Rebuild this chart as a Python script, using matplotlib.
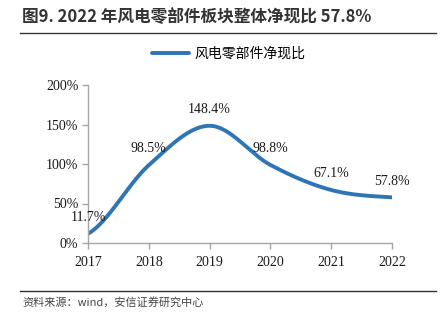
import numpy as np
import matplotlib
matplotlib.use("Agg")
import matplotlib.pyplot as plt
from matplotlib.lines import Line2D

years = [2017, 2018, 2019, 2020, 2021, 2022]
ratio = [11.7, 98.5, 148.4, 98.8, 67.1, 57.8]
series_name = "风电零部件净现比"
title = "图9. 2022 年风电零部件板块整体净现比 57.8%"
source = "资料来源：wind，安信证券研究中心"
yticks = [0, 50, 100, 150, 200]

cjk = ["Noto Sans CJK SC", "DejaVu Sans"]
serif = ["Liberation Serif", "DejaVu Serif"]
blue = "#2E75B6"
grey = "#A6A6A6"


def smooth(x, y, n=40, tension=0.5):
    # Catmull-Rom style curve through the data points
    x = np.asarray(x, float)
    y = np.asarray(y, float)
    px = np.concatenate([[2 * x[0] - x[1]], x, [2 * x[-1] - x[-2]]])
    py = np.concatenate([[y[0]], y, [y[-1]]])
    xs, ys = [], []
    for i in range(1, len(px) - 2):
        p0, p1, p2, p3 = (np.array([px[j], py[j]]) for j in range(i - 1, i + 3))
        c1 = p1 + (p2 - p0) * tension / 3
        c2 = p2 - (p3 - p1) * tension / 3
        t = np.linspace(0, 1, n)[:, None]
        b = ((1 - t) ** 3) * p1 + 3 * ((1 - t) ** 2) * t * c1 + 3 * (1 - t) * t ** 2 * c2 + t ** 3 * p2
        xs.append(b[:, 0])
        ys.append(b[:, 1])
    return np.concatenate(xs), np.concatenate(ys)


fig = plt.figure(figsize=(4.4, 3.21), dpi=100)
ax = fig.add_axes([88 / 440, 1 - 243 / 321, 304 / 440, 158 / 321])

sx, sy = smooth(years, ratio)
ax.plot(sx, sy, color=blue, lw=2.8, solid_capstyle="round")

for x, v in zip(years, ratio):
    ax.annotate(f"{v:.1f}%", (x, v), xytext=(0, 7), textcoords="offset points",
                ha="center", va="bottom", fontsize=10, family=serif, color="#1a1a1a")

ax.set_xlim(2017, 2022)
ax.set_ylim(0, 200)
ax.set_xticks(years)
ax.set_xticklabels([str(y) for y in years], family=serif, fontsize=10)
ax.set_yticks(yticks)
ax.set_yticklabels([f"{t}%" for t in yticks], family=serif, fontsize=10)
for s in ["top", "right"]:
    ax.spines[s].set_visible(False)
for s in ["left", "bottom"]:
    ax.spines[s].set_color(grey)
    ax.spines[s].set_linewidth(1.0)
ax.tick_params(axis="both", direction="out", length=4, width=1.0, colors="#1a1a1a")
ax.tick_params(axis="both", color=grey)
ax.tick_params(axis="x", pad=5)
ax.tick_params(axis="y", pad=3)

handle = Line2D([], [], color=blue, lw=2.8, solid_capstyle="round")
fig.legend([handle], [series_name], loc="center", bbox_to_anchor=(0.52, 1 - 54 / 321),
           frameon=False, prop={"family": cjk, "size": 10}, handlelength=2.6, handletextpad=0.4)

fig.text(22 / 440, 1 - 17 / 321, title, fontsize=12, fontweight="bold",
         family=cjk, color="#333333", va="center", ha="left")
fig.add_artist(Line2D([20 / 440, 436 / 440], [1 - 33 / 321] * 2, color="#333333", lw=1.0))
fig.add_artist(Line2D([20 / 440, 436 / 440], [1 - 291 / 321] * 2, color="#333333", lw=1.0))
fig.text(22 / 440, 1 - 302 / 321, source, fontsize=8, style="italic",
         family=cjk, color="#444444", va="center", ha="left")

fig.savefig("out.png", dpi=100)
